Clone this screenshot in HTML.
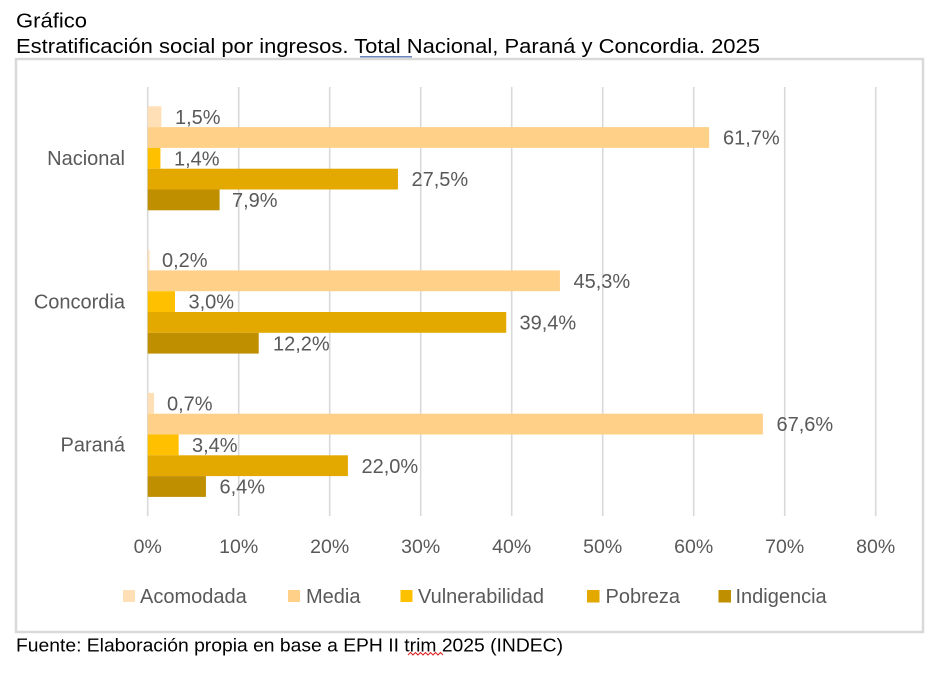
<!DOCTYPE html>
<html>
<head>
<meta charset="utf-8">
<style>
html,body{margin:0;padding:0;background:#fff;}
svg{display:block;}
</style>
</head>
<body>
<svg width="941" height="673" viewBox="0 0 941 673" xmlns="http://www.w3.org/2000/svg" font-family="Liberation Sans, Arial, sans-serif">
  <rect x="0" y="0" width="941" height="673" fill="#ffffff"/>
  <!-- Titles -->
  <text x="16" y="27.5" font-size="20" fill="#000" textLength="71" lengthAdjust="spacingAndGlyphs">Gráfico</text>
  <text x="16" y="53" font-size="20" fill="#000" textLength="744" lengthAdjust="spacingAndGlyphs">Estratificación social por ingresos. Total Nacional, Paraná y Concordia. 2025</text>
  <line x1="360" y1="56.8" x2="412" y2="56.8" stroke="#3d5fa8" stroke-width="1.2"/>

  <!-- Chart border -->
  <rect x="16" y="59" width="907" height="573" fill="#fff" stroke="#d9d9d9" stroke-width="2.5"/>

  <!-- Gridlines -->
  <g stroke="#d9d9d9" stroke-width="1.6">
    <line x1="147.7" y1="87" x2="147.7" y2="516"/>
    <line x1="238.7" y1="87" x2="238.7" y2="516"/>
    <line x1="329.7" y1="87" x2="329.7" y2="516"/>
    <line x1="420.7" y1="87" x2="420.7" y2="516"/>
    <line x1="511.7" y1="87" x2="511.7" y2="516"/>
    <line x1="602.7" y1="87" x2="602.7" y2="516"/>
    <line x1="693.7" y1="87" x2="693.7" y2="516"/>
    <line x1="784.7" y1="87" x2="784.7" y2="516"/>
    <line x1="875.7" y1="87" x2="875.7" y2="516"/>
  </g>

  <!-- Bars: Nacional (start 106.3) -->
  <g>
    <rect x="147.7" y="106.3" width="13.65" height="20.8" fill="#FFDFB6"/>
    <rect x="147.7" y="127.1" width="561.47" height="20.8" fill="#FFD088"/>
    <rect x="147.7" y="147.9" width="12.74" height="20.8" fill="#FFC000"/>
    <rect x="147.7" y="168.7" width="250.25" height="20.8" fill="#E3A900"/>
    <rect x="147.7" y="189.5" width="71.89" height="20.8" fill="#BF8F00"/>
  </g>
  <!-- Bars: Concordia (start 249.6) -->
  <g>
    <rect x="147.7" y="249.6" width="1.82" height="20.8" fill="#FFDFB6"/>
    <rect x="147.7" y="270.4" width="412.23" height="20.8" fill="#FFD088"/>
    <rect x="147.7" y="291.2" width="27.3" height="20.8" fill="#FFC000"/>
    <rect x="147.7" y="312.0" width="358.54" height="20.8" fill="#E3A900"/>
    <rect x="147.7" y="332.8" width="111.02" height="20.8" fill="#BF8F00"/>
  </g>
  <!-- Bars: Paraná (start 392.9) -->
  <g>
    <rect x="147.7" y="392.9" width="6.37" height="20.8" fill="#FFDFB6"/>
    <rect x="147.7" y="413.7" width="615.16" height="20.8" fill="#FFD088"/>
    <rect x="147.7" y="434.5" width="30.94" height="20.8" fill="#FFC000"/>
    <rect x="147.7" y="455.3" width="200.2" height="20.8" fill="#E3A900"/>
    <rect x="147.7" y="476.1" width="58.24" height="20.8" fill="#BF8F00"/>
  </g>

  <!-- Data labels -->
  <g font-size="20" fill="#595959">
    <text x="175" y="123.8">1,5%</text>
    <text x="723" y="144.6">61,7%</text>
    <text x="174" y="165.4">1,4%</text>
    <text x="411.5" y="186.2">27,5%</text>
    <text x="232" y="207">7,9%</text>

    <text x="162" y="267.1">0,2%</text>
    <text x="573.5" y="287.9">45,3%</text>
    <text x="188.5" y="308.7">3,0%</text>
    <text x="519.5" y="329.5">39,4%</text>
    <text x="273" y="350.3">12,2%</text>

    <text x="167" y="410.4">0,7%</text>
    <text x="776.5" y="431.2">67,6%</text>
    <text x="192" y="452">3,4%</text>
    <text x="361.5" y="472.8">22,0%</text>
    <text x="219.5" y="493.6">6,4%</text>
  </g>

  <!-- Category labels -->
  <g font-size="20" fill="#595959" text-anchor="end">
    <text x="125" y="165">Nacional</text>
    <text x="125" y="308.3">Concordia</text>
    <text x="125" y="451.6">Paraná</text>
  </g>

  <!-- X axis tick labels -->
  <g font-size="19.5" fill="#595959" text-anchor="middle">
    <text x="147.7" y="553">0%</text>
    <text x="238.7" y="553">10%</text>
    <text x="329.7" y="553">20%</text>
    <text x="420.7" y="553">30%</text>
    <text x="511.7" y="553">40%</text>
    <text x="602.7" y="553">50%</text>
    <text x="693.7" y="553">60%</text>
    <text x="784.7" y="553">70%</text>
    <text x="875.7" y="553">80%</text>
  </g>

  <!-- Legend -->
  <g>
    <rect x="123" y="590" width="12" height="12" fill="#FFDFB6"/>
    <rect x="288" y="590" width="12" height="12" fill="#FFD088"/>
    <rect x="400.5" y="590" width="12" height="12" fill="#FFC000"/>
    <rect x="587" y="590" width="12.5" height="12.5" fill="#E3A900"/>
    <rect x="718.5" y="590" width="12.5" height="12.5" fill="#BF8F00"/>
  </g>
  <g font-size="20" fill="#595959">
    <text x="140" y="603">Acomodada</text>
    <text x="306" y="603">Media</text>
    <text x="418" y="603">Vulnerabilidad</text>
    <text x="605.5" y="603">Pobreza</text>
    <text x="735.5" y="603">Indigencia</text>
  </g>

  <!-- Footer -->
  <text x="16" y="651.5" font-size="18" fill="#000" textLength="547" lengthAdjust="spacingAndGlyphs">Fuente: Elaboración propia en base a EPH II trim 2025 (INDEC)</text>
  <path d="M408 655 l2.5 -2.5 l2.5 2.5 l2.5 -2.5 l2.5 2.5 l2.5 -2.5 l2.5 2.5 l2.5 -2.5 l2.5 2.5 l2.5 -2.5 l2.5 2.5 l2.5 -2.5 l2.5 2.5 l2.5 -2.5 l2.5 2.5" fill="none" stroke="#e02020" stroke-width="1"/>
</svg>
</body>
</html>
